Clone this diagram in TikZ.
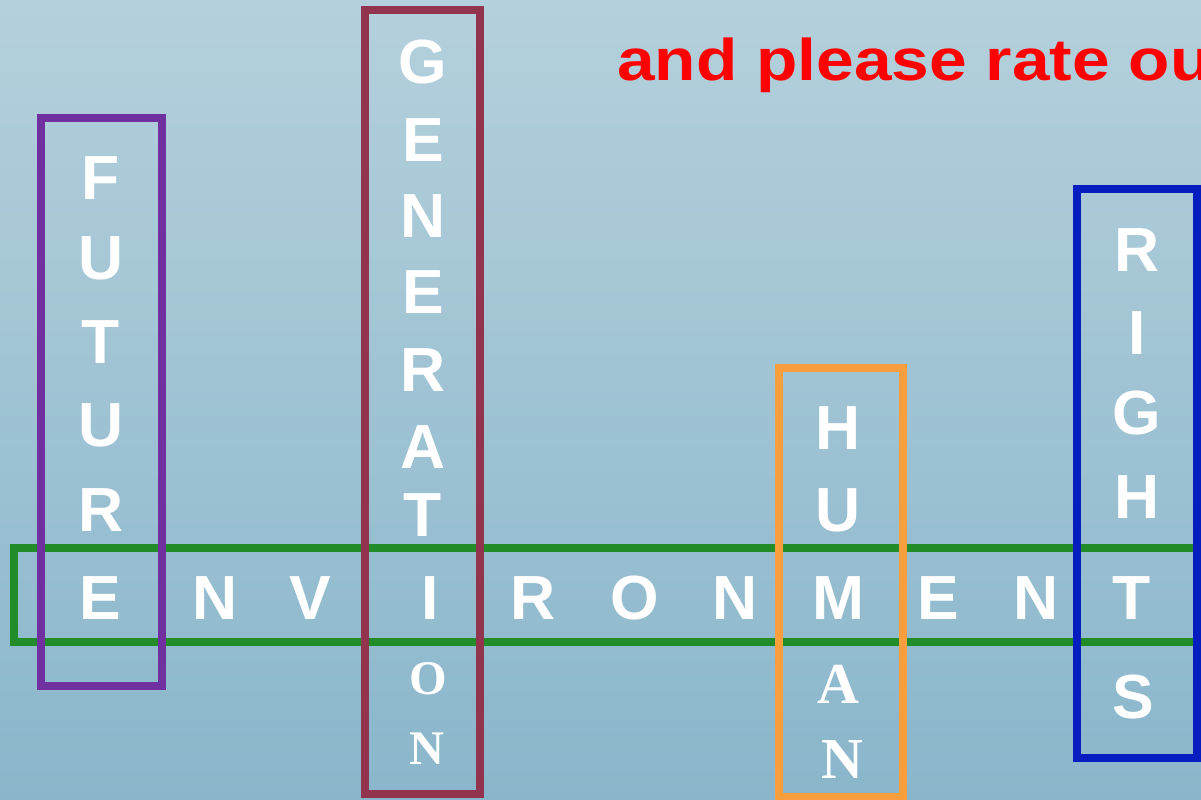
\documentclass[tikz,border=0pt]{standalone}
\usepackage{fontspec}
\setmainfont{Liberation Sans}
\newfontfamily\serifface{Liberation Serif}
\newfontfamily\redface[FakeStretch=1.15]{Liberation Sans}
\definecolor{bgtop}{RGB}{180,208,220}
\definecolor{bgbot}{RGB}{138,182,203}
\definecolor{cpurple}{RGB}{112,48,160}
\definecolor{cmaroon}{RGB}{146,52,78}
\definecolor{corange}{RGB}{248,158,60}
\definecolor{cblue}{RGB}{6,30,192}
\definecolor{cgreen}{RGB}{34,140,42}
\definecolor{cred}{RGB}{255,0,0}
\begin{document}
\begin{tikzpicture}[x=0.02cm,y=-0.02cm,
  lt/.style={text=white,inner sep=0pt,font=\fontsize{35.5}{36}\selectfont\bfseries},
  sga/.style={text=white,inner sep=0pt,font=\serifface\fontsize{27.5}{28}\selectfont\bfseries},
  sgb/.style={text=white,inner sep=0pt,font=\serifface\fontsize{33}{34}\selectfont\bfseries},
  boxline/.style={line width=4pt}]
\useasboundingbox (0,0) rectangle (1201,799);
\clip (0,0) rectangle (1201,799);
\shade[top color=bgtop,bottom color=bgbot] (0,0) rectangle (1201,799);
% red heading
\node[anchor=base west,inner sep=0pt,text=cred,font=\redface\fontsize{33.5}{34}\selectfont\bfseries] (head) at (617,80) {and please rate ou};
% boxes
\draw[boxline,cgreen] (14,548) rectangle (1230,642);
\draw[boxline,cpurple] (41,118) rectangle (162,686);
\draw[boxline,cmaroon] (365,10) rectangle (480,794);
\draw[boxline,corange] (779,368) rectangle (903,797);
\draw[boxline,cblue] (1077,189) rectangle (1197,758);
% ENVIRONMENT row
\node[lt] (e1) at (100,598) {E};
\node[lt] (e2) at (215,598) {N};
\node[lt] (e3) at (310,598) {V};
\node[lt] (e4) at (430,598) {I};
\node[lt] (e5) at (533,598) {R};
\node[lt] (e6) at (635,598) {O};
\node[lt] (e7) at (735,598) {N};
\node[lt] (e8) at (838,598) {M};
\node[lt] (e9) at (938,598) {E};
\node[lt] (e10) at (1036,598) {N};
\node[lt] (e11) at (1132,598) {T};
% FUTURE
\node[lt] (f1) at (101,178) {F};
\node[lt] (f2) at (101,258) {U};
\node[lt] (f3) at (101,342) {T};
\node[lt] (f4) at (101,425) {U};
\node[lt] (f5) at (101,510) {R};
% GENERATION
\node[lt] (g1) at (423,62) {G};
\node[lt] (g2) at (423,140) {E};
\node[lt] (g3) at (423,216) {N};
\node[lt] (g4) at (423,292) {E};
\node[lt] (g5) at (423,370) {R};
\node[lt] (g6) at (423,447) {A};
\node[lt] (g7) at (423,515) {T};
\node[sga] (g9) at (428,679) {O};
\node[sga] (g10) at (427,749) {N};
% HUMAN
\node[lt] (h1) at (838,428) {H};
\node[lt] (h2) at (838,510) {U};
\node[sgb] (h4) at (838,684) {A};
\node[sgb] (h5) at (842,760) {N};
% RIGHTS
\node[lt] (r1) at (1137,250) {R};
\node[lt] (r2) at (1137,333) {I};
\node[lt] (r3) at (1137,413) {G};
\node[lt] (r4) at (1137,497) {H};
\node[lt] (r6) at (1133,697) {S};
\end{tikzpicture}
\end{document}
